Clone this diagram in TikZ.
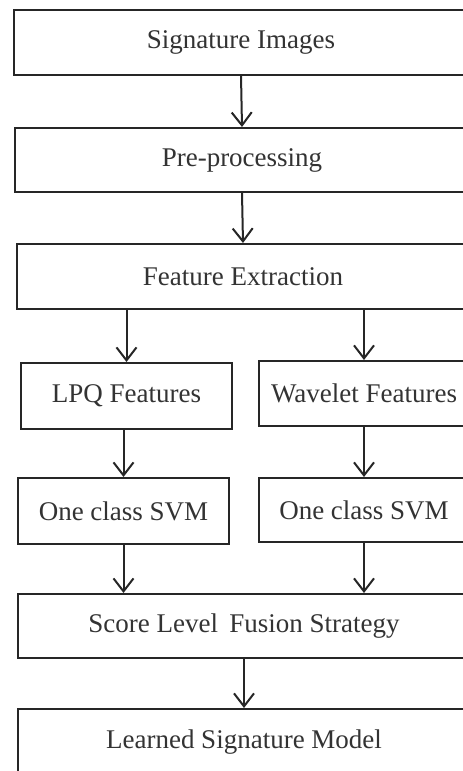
\documentclass[tikz,border=0pt]{standalone}
\usepackage{fontspec}
\setmainfont{Liberation Serif}
\usepackage{tikz}
\usetikzlibrary{arrows.meta}

\tikzset{
    blk/.style={draw=black!85, line width=2pt, fill=white, text=black!80,
        rectangle, inner sep=0pt, font=\fontsize{27}{32}\selectfont},
    arr/.style={draw=black!85, line width=2pt,
        -{Straight Barb[length=13pt, width=20pt, line width=2pt]}}
}

\begin{document}
\begin{tikzpicture}[x=1pt, y=-1pt]
        \useasboundingbox (0,0) rectangle (463,771);
        \clip (0,0) rectangle (463,771);

        \node[blk, minimum width=454pt, minimum height=65pt] (sig) at (241,42) {Signature Images};
        \node[blk, minimum width=454pt, minimum height=64pt] (pre) at (242,160) {Pre-processing};
        \node[blk, minimum width=452pt, minimum height=65pt] (feat) at (243,276.5) {Feature Extraction};

        \node[blk, minimum width=211pt, minimum height=66pt] (lpq) at (126.5,396) {LPQ Features};
        \node[blk, minimum width=210pt, minimum height=65pt] (wav) at (364,393.5) {Wavelet Features};

        \node[blk, minimum width=211pt, minimum height=66pt] (svmL) at (123.5,511) {One class SVM};
        \node[blk, minimum width=210pt, minimum height=64pt] (svmR) at (364,510) {One class SVM};

        \node[blk, minimum width=452pt, minimum height=64pt] (fus) at (244,626) {Score Level\, Fusion Strategy};
        \node[blk, minimum width=452pt, minimum height=66pt] (model) at (244,742) {Learned Signature Model};

        \draw[arr] (sig.south) -- (pre.north);
        \draw[arr] (pre.south) -- (feat.north);
        \draw[arr] (feat.south -| lpq.north) -- (lpq.north);
        \draw[arr] (feat.south -| wav.north) -- (wav.north);
        \draw[arr] (lpq.south -| svmL.north) -- (svmL.north);
        \draw[arr] (wav.south) -- (svmR.north);
        \draw[arr] (svmL.south) -- (svmL.south |- fus.north);
        \draw[arr] (svmR.south) -- (svmR.south |- fus.north);
        \draw[arr] (fus.south) -- (model.north);
    \end{tikzpicture}
\end{document}
